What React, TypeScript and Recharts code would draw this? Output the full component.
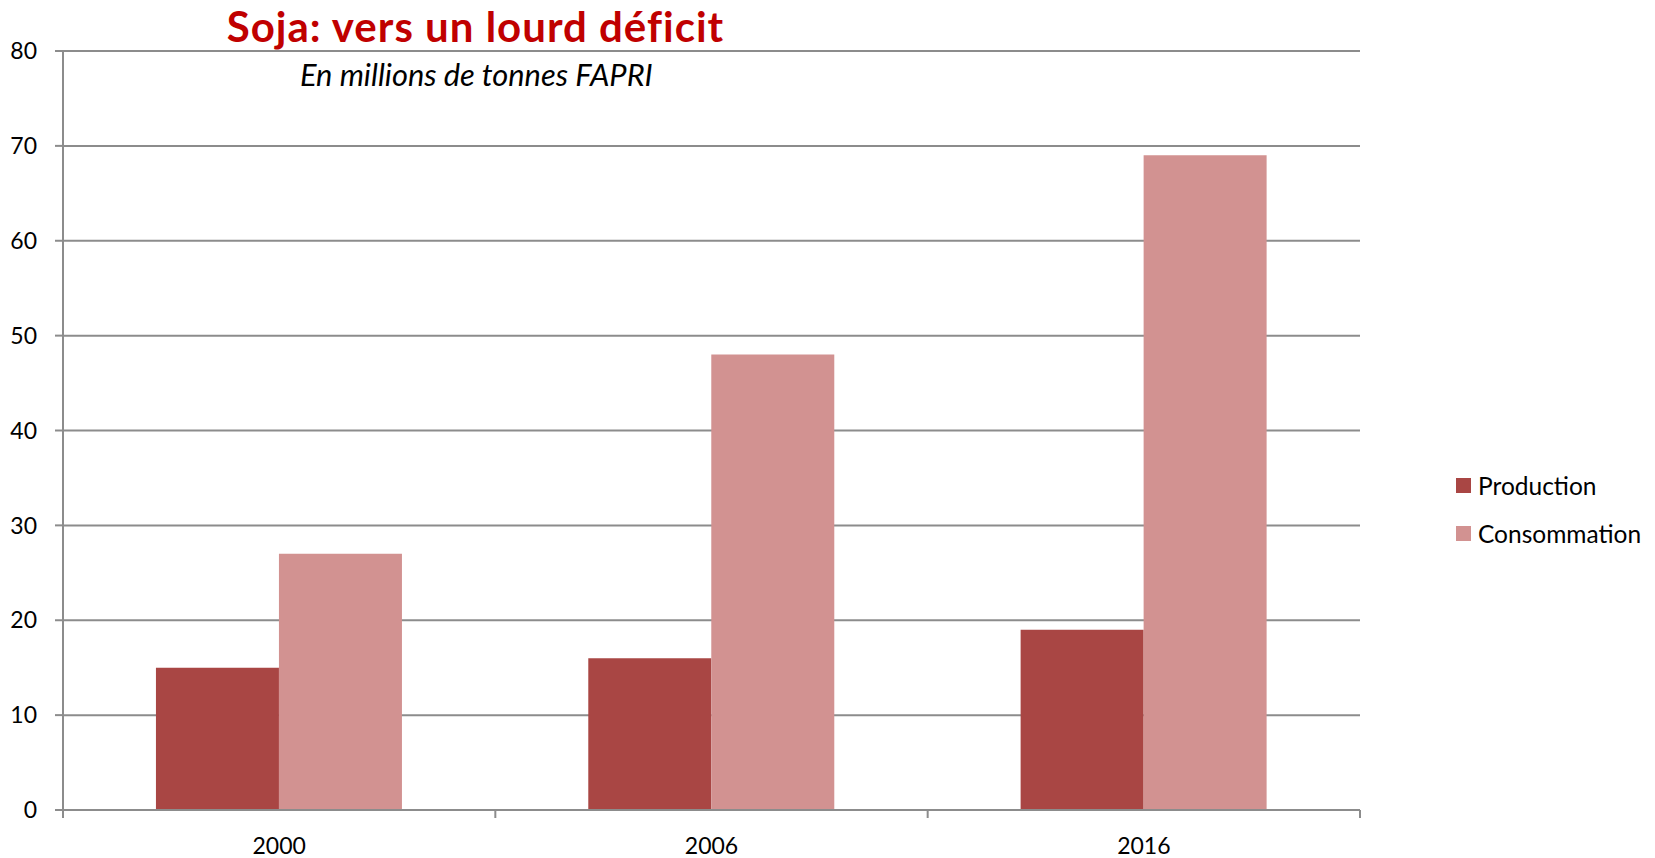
import { Bar, BarChart, CartesianGrid, XAxis, YAxis } from "recharts";

const years = ["2000", "2006", "2016"];
const production = [15, 16, 19];
const consommation = [27, 48, 69];
const yTicks = [0, 10, 20, 30, 40, 50, 60, 70, 80];

const series = [
  { key: "production", name: "Production", color: "#A94644" },
  { key: "consommation", name: "Consommation", color: "#D29291" },
];

const data = years.map((year, i) => ({
  year,
  production: production[i],
  consommation: consommation[i],
}));

const FONT = "Lato, 'DejaVu Sans', sans-serif";
const GRID = "#8C8C8C";

type YearTickProps = {
  x?: number;
  y?: number;
  index?: number;
  payload?: { value?: string; offset?: number };
};

/** Libellé d'année + petits traits aux limites de catégorie (style Excel). */
function YearTick({ x = 0, y = 0, index = 0, payload }: YearTickProps) {
  const half = Number(payload?.offset ?? 0);
  const isLast = index === years.length - 1;
  return (
    <g>
      <line x1={x - half} x2={x - half} y1={y - 8} y2={y} stroke={GRID} strokeWidth={2} />
      {isLast && <line x1={x + half} x2={x + half} y1={y - 8} y2={y} stroke={GRID} strokeWidth={2} />}
      <text x={x} y={y + 27} textAnchor="middle" dominantBaseline="central" fontSize={23} fill="#000">
        {payload?.value}
      </text>
    </g>
  );
}

// légende à droite, hors du calcul de marges de Recharts
function SideLegend() {
  return (
    <div
      style={{
        position: "absolute",
        left: 1456,
        top: 461,
        fontSize: 24.5,
        color: "#000",
      }}
    >
      {series.map((s) => (
        <div key={s.key} style={{ display: "flex", alignItems: "center", height: 48 }}>
          <span style={{ width: 15, height: 15, background: s.color, marginRight: 7 }} />
          {s.name}
        </div>
      ))}
    </div>
  );
}

export default function App() {
  return (
    <div style={{ position: "fixed", left: 0, top: 0, width: 1655, height: 858, background: "#fff", fontFamily: FONT }}>
      <BarChart
        width={1655}
        height={858}
        data={data}
        margin={{ top: 51, right: 295, left: 0, bottom: 0 }}
        barCategoryGap="21.5%"
        barGap={0}
      >
        <CartesianGrid vertical={false} stroke={GRID} strokeWidth={2} />
        <XAxis
          dataKey="year"
          height={48}
          axisLine={{ stroke: GRID, strokeWidth: 2 }}
          tickLine={false}
          tickSize={8}
          tickMargin={0}
          tick={(props: YearTickProps) => <YearTick {...props} />}
        />
        <YAxis
          width={63}
          domain={[0, 80]}
          ticks={yTicks}
          interval={0}
          axisLine={{ stroke: GRID, strokeWidth: 2 }}
          tickLine={{ stroke: GRID, strokeWidth: 2 }}
          tickSize={8}
          tickMargin={18}
          tick={{ fill: "#000", fontSize: 23, fontFamily: FONT }}
        />
        {series.map((s) => (
          <Bar key={s.key} dataKey={s.key} name={s.name} fill={s.color} isAnimationActive={false} />
        ))}
      </BarChart>
      <SideLegend />
      <div
        style={{
          position: "absolute",
          left: 0,
          width: 951,
          top: 3,
          textAlign: "center",
          color: "#C00000",
          fontWeight: 700,
          fontSize: 42,
          letterSpacing: 1,
          lineHeight: "46px",
        }}
      >
        Soja: vers un lourd déficit
      </div>
      <div
        style={{
          position: "absolute",
          left: 300,
          top: 58,
          fontStyle: "italic",
          fontSize: 30.8,
          lineHeight: "34px",
          color: "#000",
        }}
      >
        En millions de tonnes FAPRI
      </div>
    </div>
  );
}
